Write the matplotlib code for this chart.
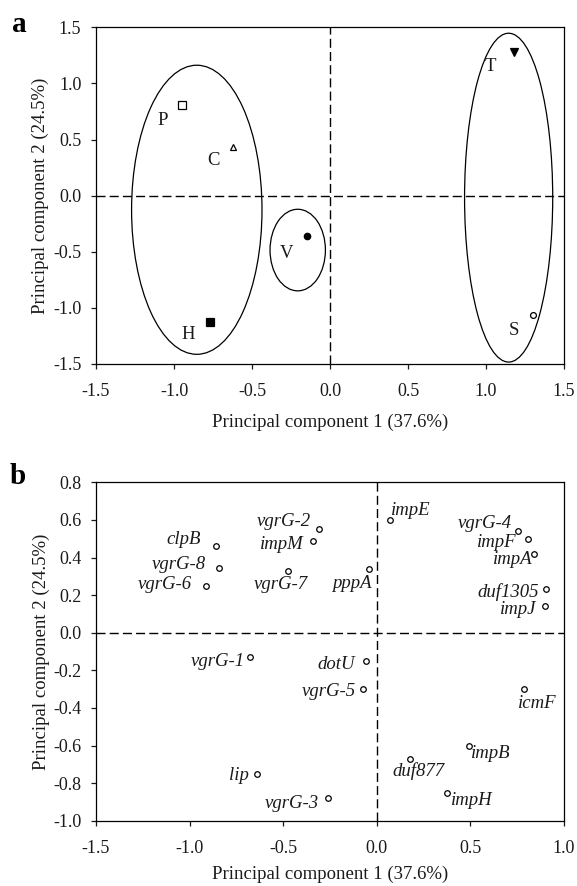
#!/usr/bin/env python
"""PCA score plot (a) and loading plot (b) for T6SS gene expression."""

import matplotlib

matplotlib.use("Agg")

import matplotlib.pyplot as plt
from matplotlib.patches import Ellipse

# ---- panel a: sample scores ----
SAMPLES = ["P", "C", "H", "V", "T", "S"]
SAMPLE_PC1 = [-0.95, -0.62, -0.77, -0.15, 1.18, 1.30]
SAMPLE_PC2 = [0.81, 0.43, -1.13, -0.36, 1.28, -1.06]
SAMPLE_LABEL_X = [-1.07, -0.745, -0.91, -0.28, 1.03, 1.18]
SAMPLE_LABEL_Y = [0.67, 0.31, -1.24, -0.52, 1.155, -1.20]
# (centre x, centre y, width, height) of the grouping ellipses
GROUPS = [
    (-0.854, -0.126, 0.836, 2.576),
    (-0.207, -0.485, 0.355, 0.727),
    (1.145, -0.018, 0.565, 2.93),
]

# ---- panel b: gene loadings ----
GENES = ["impE", "vgrG-2", "impM", "clpB", "vgrG-8", "vgrG-6", "vgrG-7", "pppA",
         "vgrG-4", "impF", "impA", "duf1305", "impJ", "vgrG-1", "dotU", "vgrG-5",
         "icmF", "impB", "duf877", "lip", "vgrG-3", "impH"]
GENE_PC1 = [0.07, -0.31, -0.34, -0.86, -0.845, -0.915, -0.475, -0.04,
            0.755, 0.81, 0.84, 0.905, 0.90, -0.68, -0.06, -0.075,
            0.785, 0.49, 0.175, -0.64, -0.26, 0.375]
GENE_PC2 = [0.60, 0.55, 0.49, 0.46, 0.345, 0.25, 0.33, 0.34,
            0.54, 0.50, 0.42, 0.23, 0.14, -0.13, -0.15, -0.30,
            -0.30, -0.60, -0.67, -0.75, -0.88, -0.85]

SAMPLE_STYLE = {
    "P": dict(marker="s", mfc="white", ms=5.2),
    "C": dict(marker="^", mfc="white", ms=4.8),
    "H": dict(marker="s", mfc="black", ms=5.2),
    "V": dict(marker="o", mfc="black", ms=4.6),
    "T": dict(marker="v", mfc="black", ms=5.5),
    "S": dict(marker="o", mfc="white", ms=4.2),
}

# label placement for genes: (dx, dy) in points, horizontal alignment
GENE_LABEL_POS = {
    "impE": (0.5, 6.7, "left"), "vgrG-2": (-5.6, 5.3, "right"), "impM": (-6.6, -2.6, "right"),
    "clpB": (-10.6, 4.6, "right"), "vgrG-8": (-9.5, 2.6, "right"), "vgrG-6": (-10, 1.2, "right"),
    "vgrG-7": (-5, -9.8, "center"), "pppA": (1.9, -10.3, "right"), "vgrG-4": (-4.5, 5.3, "right"),
    "impF": (-8.5, -2.9, "right"), "impA": (-1.3, -3.8, "right"), "duf1305": (-5, -2.2, "right"),
    "impJ": (-6.1, -1.9, "right"), "vgrG-1": (-3.4, -2.9, "right"), "dotU": (-7.4, -2.6, "right"),
    "vgrG-5": (-5, -1.7, "right"), "icmF": (9.5, -10.3, "center"), "impB": (1.9, -5.5, "left"),
    "duf877": (6.6, -9.1, "center"), "lip": (-5.6, -1.4, "right"), "vgrG-3": (-6.4, -4.1, "right"),
    "impH": (2.7, -6, "left"),
}

plt.rcParams["font.family"] = ["Liberation Serif", "DejaVu Serif"]
TEXT_COLOR = "#1a1a1a"
DASH = (0, (6.5, 3))


def style_axes(ax, xlim, ylim, xticks, yticks, xlabelpad):
    ax.set_xlim(*xlim)
    ax.set_ylim(*ylim)
    ax.set_xticks(xticks)
    ax.set_yticks(yticks)
    ax.set_xticklabels([f"{t:.1f}" for t in xticks])
    ax.set_yticklabels([f"{t:.1f}" for t in yticks])
    ax.tick_params(direction="out", length=3.6, width=0.9, labelsize=13, colors=TEXT_COLOR)
    ax.tick_params(axis="x", pad=10)
    ax.tick_params(axis="y", pad=7)
    for spine in ax.spines.values():
        spine.set_linewidth(0.9)
    ax.axhline(0, color="black", lw=1.0, ls=DASH)
    ax.axvline(0, color="black", lw=1.0, ls=DASH)
    ax.set_xlabel("Principal component 1 (37.6%)", fontsize=13.5, color=TEXT_COLOR, labelpad=xlabelpad)
    ax.set_ylabel("Principal component 2 (24.5%)", fontsize=13.5, color=TEXT_COLOR, labelpad=2.5)


fig = plt.figure(figsize=(5.77, 8.86), dpi=100)
ax_a = fig.add_axes([0.1664, 0.5892, 0.8111, 0.3800])
ax_b = fig.add_axes([0.1664, 0.0737, 0.8111, 0.3819])

# panel a
style_axes(ax_a, (-1.5, 1.5), (-1.5, 1.5), [-1.5, -1.0, -0.5, 0.0, 0.5, 1.0, 1.5],
           [-1.5, -1.0, -0.5, 0.0, 0.5, 1.0, 1.5], 10)
for cx, cy, w, h in GROUPS:
    ax_a.add_patch(Ellipse((cx, cy), w, h, fill=False, edgecolor="black", lw=0.9))
for name, x, y, lx, ly in zip(SAMPLES, SAMPLE_PC1, SAMPLE_PC2, SAMPLE_LABEL_X, SAMPLE_LABEL_Y):
    ax_a.plot(x, y, linestyle="none", mec="black", mew=0.9, **SAMPLE_STYLE[name])
    ax_a.text(lx, ly, name, fontsize=13.5, ha="center", va="center", color=TEXT_COLOR)

# panel b
style_axes(ax_b, (-1.5, 1.0), (-1.0, 0.8), [-1.5, -1.0, -0.5, 0.0, 0.5, 1.0],
           [-1.0, -0.8, -0.6, -0.4, -0.2, 0.0, 0.2, 0.4, 0.6, 0.8], 6.5)
ax_b.plot(GENE_PC1, GENE_PC2, linestyle="none", marker="o", ms=4, mfc="white",
          mec="black", mew=0.9)
for name, x, y in zip(GENES, GENE_PC1, GENE_PC2):
    dx, dy, ha = GENE_LABEL_POS[name]
    ax_b.annotate(name, (x, y), xytext=(dx, dy), textcoords="offset points",
                  ha=ha, va="center", fontsize=13.5, style="italic", color=TEXT_COLOR)

fig.text(19.5 / 577, 1 - 24.5 / 886, "a", fontsize=21, fontweight="bold", ha="center", va="center")
fig.text(17.5 / 577, 1 - 476 / 886, "b", fontsize=21, fontweight="bold", ha="center", va="center")

fig.savefig("out.png", dpi=100)
